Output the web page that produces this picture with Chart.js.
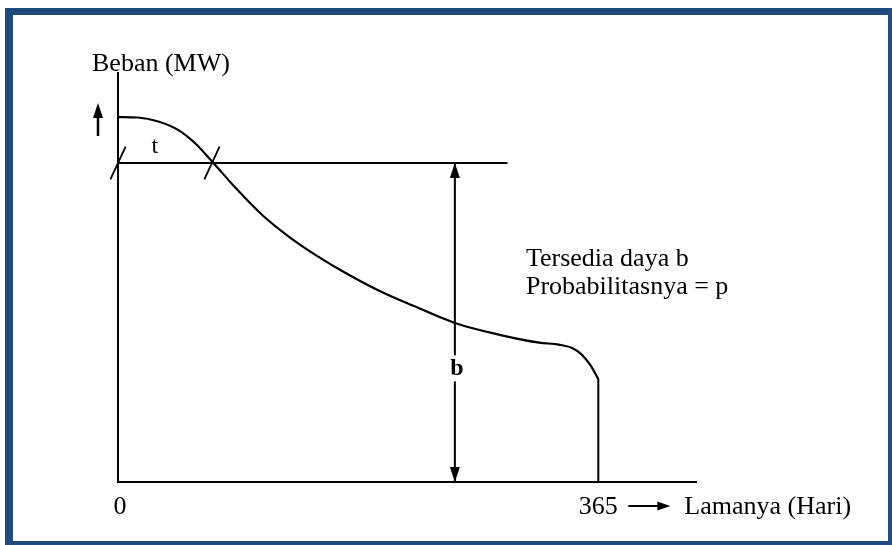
<!DOCTYPE html>
<html>
<head>
<meta charset="utf-8">
<script src="https://cdn.jsdelivr.net/npm/chart.js@4"></script>
<style>
  body { margin: 0; background: #fff; }
  #wrap { position: relative; width: 892px; height: 545px; overflow: hidden; }
  #frame { position: absolute; left: 5px; top: 8px; right: 0; bottom: 0;
    border-style: solid; border-color: #1f4a7d; border-width: 7px 4px 4px 8px; pointer-events: none; }
  canvas { position: absolute; left: 0; top: 0; }
</style>
</head>
<body>
<div id="wrap">
  <canvas id="c" width="892" height="545"></canvas>
  <div id="frame"></div>
</div>
<script>
// kurva lama beban (hari vs MW)
const hari  = [0, 15, 30, 45, 58, 72, 90, 110, 130, 150, 175, 200, 225, 256, 290, 320, 335, 345, 352, 359, 365]
const beban = [89, 88.9, 88, 86, 82.8, 78, 71.5, 65, 59.8, 55.4, 50.6, 46.4, 42.9, 38.8, 35.9, 34, 33.5, 32.7, 31.2, 28.5, 25.1]
const hariMaks = 365
const dayaB = 77.8          // tersedia daya b
const ujungGarisB = 296     // garis b berhenti di sini
const posisiPanah = 256     // panah b
const titikT = [0, 71.4]    // batas t
const labelX = ['0', '365']
const sumbuXMaks = 440
const sumbuYMaks = 100

const font = "'Liberation Serif', 'Times New Roman', serif"
const hitam = '#000'

function garis(data, w) {
  return { data: data, borderColor: hitam, borderWidth: w, pointRadius: 0, tension: 0, fill: false, clip: false }
}

const kurva = hari.map((h, i) => ({ x: h, y: beban[i] }))

// teks dan panah, letaknya dari skala chart
const anotasi = {
  id: 'anotasi',
  afterDatasetsDraw(chart) {
    const ctx = chart.ctx
    const xs = chart.scales.x, ys = chart.scales.y
    const px = v => xs.getPixelForValue(v)
    const py = v => ys.getPixelForValue(v)
    ctx.save()
    ctx.fillStyle = hitam
    ctx.strokeStyle = hitam
    ctx.font = '26px ' + font
    ctx.textBaseline = 'alphabetic'

    // kepala panah b
    let x = px(posisiPanah)
    let top = py(dayaB), bot = py(0)
    ctx.beginPath()
    ctx.moveTo(x, top); ctx.lineTo(x - 5, top + 15); ctx.lineTo(x + 5, top + 15); ctx.closePath(); ctx.fill()
    ctx.beginPath()
    ctx.moveTo(x, bot); ctx.lineTo(x - 5, bot - 15); ctx.lineTo(x + 5, bot - 15); ctx.closePath(); ctx.fill()

    // label b
    ctx.font = 'bold 24px ' + font
    ctx.textAlign = 'center'
    let by = py(26)
    ctx.fillStyle = '#fff'
    ctx.fillRect(x - 8, by - 20, 16, 26)
    ctx.fillStyle = hitam
    ctx.fillText('b', x + 2, by)

    // label t
    ctx.font = '24px ' + font
    ctx.fillText('t', px(28), py(dayaB) - 10)

    // judul sumbu y
    ctx.font = '26px ' + font
    ctx.textAlign = 'left'
    ctx.fillText('Beban (MW)', px(0) - 26, py(sumbuYMaks) - 1)

    // panah ke atas
    let ax = px(0) - 20
    ctx.lineWidth = 2.5
    ctx.beginPath(); ctx.moveTo(ax, 136); ctx.lineTo(ax, 110); ctx.stroke()
    ctx.beginPath(); ctx.moveTo(ax, 103); ctx.lineTo(ax - 5, 118); ctx.lineTo(ax + 5, 118); ctx.closePath(); ctx.fill()

    // tulisan keterangan
    ctx.fillText('Tersedia daya b', px(310), 266)
    ctx.fillText('Probabilitasnya = p', px(310), 294)

    // label sumbu x
    let ly = py(0) + 32
    ctx.textAlign = 'center'
    ctx.fillText(labelX[0], px(0) + 2, ly)
    ctx.fillText(labelX[1], px(hariMaks), ly)
    let x0 = px(hariMaks) + 30, x1 = x0 + 42, ay = ly - 8
    ctx.lineWidth = 2
    ctx.beginPath(); ctx.moveTo(x0, ay); ctx.lineTo(x1 - 6, ay); ctx.stroke()
    ctx.beginPath(); ctx.moveTo(x1, ay); ctx.lineTo(x1 - 13, ay - 4.5); ctx.lineTo(x1 - 13, ay + 4.5); ctx.closePath(); ctx.fill()
    ctx.textAlign = 'left'
    ctx.fillText('Lamanya (Hari)', x1 + 14, ly)
    ctx.restore()
  }
}

new Chart(document.getElementById('c'), {
  type: 'line',
  data: {
    datasets: [
      garis([{ x: 0, y: sumbuYMaks }, { x: 0, y: 0 }, { x: sumbuXMaks, y: 0 }], 2),
      Object.assign(garis(kurva, 2.2), { cubicInterpolationMode: 'monotone' }),
      garis([{ x: hariMaks, y: beban[beban.length - 1] }, { x: hariMaks, y: 0 }], 2),
      garis([{ x: 0, y: dayaB }, { x: ujungGarisB, y: dayaB }], 1.8),
      garis([{ x: posisiPanah, y: dayaB }, { x: posisiPanah, y: 0 }], 2),
      {
        data: titikT.map(h => ({ x: h, y: dayaB })),
        showLine: false,
        clip: false,
        pointStyle: 'line',
        rotation: -65,
        pointRadius: 18,
        pointBorderWidth: 1.8,
        pointBorderColor: hitam
      }
    ]
  },
  options: {
    responsive: false,
    animation: false,
    events: [],
    layout: { padding: { left: 118, right: 195, top: 72, bottom: 63 } },
    scales: {
      x: { type: 'linear', min: 0, max: sumbuXMaks, display: false },
      y: { type: 'linear', min: 0, max: sumbuYMaks, display: false }
    },
    plugins: { legend: { display: false }, tooltip: { enabled: false } }
  },
  plugins: [anotasi]
})
</script>
</body>
</html>
